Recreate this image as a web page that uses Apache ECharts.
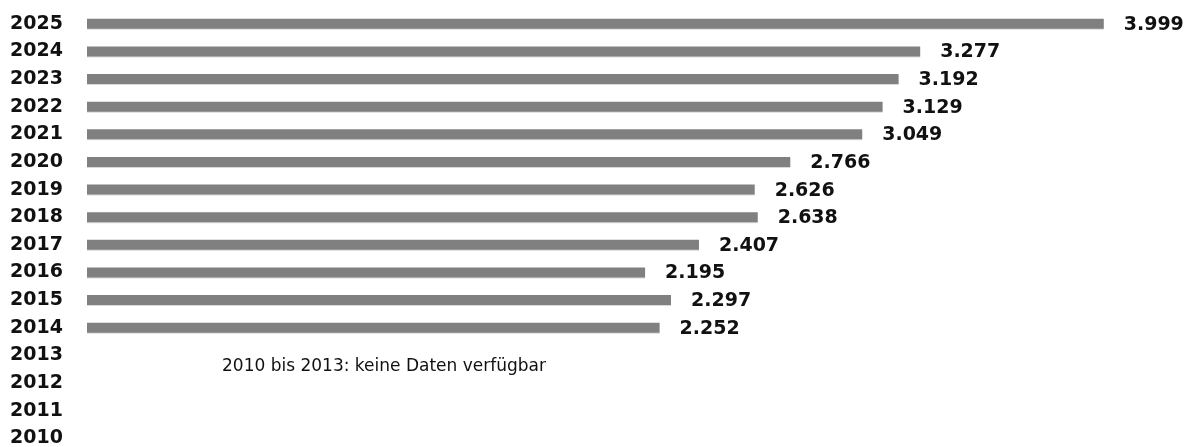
<!DOCTYPE html>
<html><head><meta charset="utf-8">
<script src="https://cdn.jsdelivr.net/npm/echarts@6/dist/echarts.min.js"></script>
<style>html,body{margin:0;padding:0;background:#fff}#c{width:1188px;height:447px}</style>
</head><body><div id="c"></div>
<script>
const years = ['2010','2011','2012','2013','2014','2015','2016','2017','2018','2019','2020','2021','2022','2023','2024','2025'];
const values = [null,null,null,null,2252,2297,2195,2407,2638,2626,2766,3049,3129,3192,3277,3999];
const note = '2010 bis 2013: keine Daten verfügbar';
const fmt = v => { const s = String(v); return s.length > 3 ? s.slice(0, s.length-3) + '.' + s.slice(-3) : s; };

const chart = echarts.init(document.getElementById('c'));
chart.setOption({
  animation: false,
  grid: { left: 87, right: 84, top: 10, height: 442, containLabel: false, outerBoundsMode: 'none' },
  xAxis: { type: 'value', min: 0, max: 4000, show: false },
  yAxis: {
    type: 'category', data: years,
    axisLine: { show: false }, axisTick: { show: false },
    axisLabel: { align: 'left', margin: 77, fontFamily: 'DejaVu Sans', fontWeight: 'bold', fontSize: 19, color: '#111' }
  },
  series: [{
    type: 'bar', data: values, barWidth: 10,
    itemStyle: { color: '#808080', shadowColor: 'rgba(0,0,0,0.15)', shadowOffsetY: 1, shadowBlur: 0 },
    label: { show: true, position: 'right', distance: 20, offset: [0, 1],
      formatter: p => p.value == null ? '' : fmt(p.value),
      fontFamily: 'DejaVu Sans', fontWeight: 'bold', fontSize: 19, color: '#111' }
  }],
  graphic: [{ type: 'text', x: 222, y: 367,
    style: { text: note, fontFamily: 'DejaVu Sans', fontSize: 17, fill: '#111', verticalAlign: 'middle' } }]
});
</script></body></html>
